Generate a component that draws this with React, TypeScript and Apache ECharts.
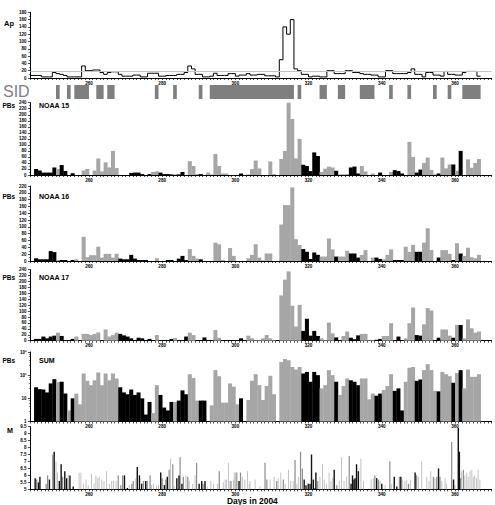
import { useEffect, useRef } from "react";
import * as echarts from "echarts";

// ---------------- DATA ----------------
const X_MIN = 244;
const X_MAX = 370;
const xTickLabels = [260, 280, 300, 320, 340, 360];

// Daily Ap index, days 244..366
const AP_FIRST_DAY = 244;
const apValues = [
  7, 7, 7, 3, 3, 3, 15, 12, 10, 7,
  3, 3, 3, 3, 33, 20, 20, 22, 22, 15,
  10, 15, 17, 17, 10, 5, 5, 5, 8, 8,
  3, 3, 13, 13, 13, 5, 5, 7, 7, 7,
  10, 10, 15, 33, 25, 10, 10, 3, 3, 5,
  13, 7, 7, 7, 12, 12, 5, 8, 8, 12,
  8, 8, 10, 10, 6, 6, 6, 3, 50, 140,
  120, 160, 25, 20, 10, 10, 3, 5, 5, 3,
  3, 20, 20, 12, 12, 12, 20, 20, 15, 15,
  12, 10, 10, 8, 8, 3, 3, 20, 20, 12,
  12, 12, 12, 15, 25, 10, 10, 3, 15, 15,
  8, 8, 5, 18, 10, 10, 8, 8, 15, 18,
  18, 18, 5,
];
const AP_REFERENCE = 18;

// SID periods [start day, end day]
const sidPeriods = [
  [251, 252], [254, 255], [256, 260], [262, 264], [265, 267], [278, 279],
  [283, 284], [290, 291], [293, 316], [317, 318], [323, 325], [328, 330],
  [334, 338], [342, 343], [347, 348], [354, 355], [358, 359], [362, 367],
];

// Daily PB counts, days 245..366
const PB_FIRST_DAY = 245;
const noaa15 = [
  20, 15, 8, 8, 8, 25, 20, 33, 13, 0,
  6, 0, 0, 15, 20, 0, 15, 55, 12, 42,
  25, 80, 23, 0, 0, 0, 7, 8, 8, 3,
  0, 3, 10, 12, 8, 3, 3, 2, 2, 2,
  10, 0, 46, 30, 3, 3, 0, 8, 2, 70,
  30, 5, 5, 0, 0, 0, 5, 0, 2, 20,
  48, 22, 0, 0, 45, 3, 0, 53, 80, 240,
  186, 55, 120, 34, 30, 13, 75, 63, 10, 21,
  28, 25, 14, 2, 2, 3, 25, 28, 5, 30,
  12, 0, 5, 0, 8, 0, 0, 10, 16, 13,
  5, 0, 110, 60, 8, 18, 40, 58, 17, 2,
  5, 58, 22, 35, 35, 14, 80, 0, 52, 24,
  40, 53,
];
const noaa16 = [
  8, 5, 5, 5, 29, 26, 3, 3, 3, 0,
  3, 5, 0, 71, 11, 17, 17, 42, 10, 21,
  21, 10, 21, 7, 5, 5, 18, 7, 3, 3,
  3, 0, 0, 8, 0, 0, 3, 3, 0, 7,
  15, 3, 35, 15, 7, 5, 0, 0, 0, 54,
  49, 3, 0, 38, 15, 0, 0, 0, 8, 18,
  49, 10, 2, 22, 22, 0, 0, 107, 164, 164,
  216, 64, 47, 35, 27, 6, 25, 18, 13, 13,
  66, 34, 13, 13, 13, 30, 22, 22, 10, 18,
  32, 0, 10, 10, 6, 5, 18, 34, 3, 3,
  3, 42, 27, 47, 27, 27, 54, 96, 32, 0,
  10, 32, 32, 21, 3, 52, 22, 15, 39, 11,
  8, 18,
];
const noaa17 = [
  6, 6, 14, 8, 14, 17, 27, 16, 0, 0,
  6, 14, 0, 23, 23, 19, 23, 28, 0, 38,
  14, 19, 27, 23, 18, 14, 8, 0, 10, 8,
  0, 6, 0, 19, 0, 0, 0, 6, 9, 0,
  0, 14, 27, 19, 0, 0, 11, 0, 0, 36,
  10, 0, 0, 0, 0, 0, 8, 0, 17, 8,
  2, 2, 8, 19, 8, 2, 0, 153, 206, 234,
  118, 48, 121, 33, 74, 17, 33, 16, 8, 2,
  61, 25, 11, 0, 16, 31, 10, 5, 18, 23,
  23, 2, 2, 3, 6, 16, 16, 59, 0, 14,
  0, 8, 59, 112, 19, 17, 55, 110, 102, 0,
  10, 38, 38, 17, 10, 53, 53, 8, 72, 42,
  27, 31,
];
const pbSum = [
  30, 25, 24, 18, 44, 67, 50, 52, 16, 3,
  10, 16, 5.5, 118, 57, 37, 60, 130, 37, 118,
  60, 118, 72, 30, 18, 15, 24, 14, 18, 10,
  2, 7, 2.3, 37, 14, 4, 3, 7, 7, 8,
  22, 15, 110, 75, 8, 8, 8, 0, 5, 165,
  90, 6.5, 6.5, 44, 32, 5.5, 10, 0, 8.5, 57,
  110, 37, 8.5, 34, 94, 15, 0, 370, 500, 440,
  225, 175, 225, 118, 138, 52, 138, 100, 27, 37,
  165, 100, 52, 14, 34, 72, 60, 52, 37, 72,
  72, 9, 16, 13, 16, 23, 34, 110, 21, 27,
  3, 52, 210, 225, 57, 65, 165, 300, 165, 21,
  20, 138, 110, 90, 47, 125, 165, 27, 175, 85,
  85, 110,
];
// Days drawn in black (others grey)
const blackDays = [
  245, 246, 247, 248, 249, 250, 252, 253, 255, 268, 269, 270, 271, 272, 273,
  274, 275, 276, 279, 280, 281, 282, 284, 285, 286, 290, 291, 301, 318, 319,
  320, 321, 322, 327, 331, 332, 333, 338, 339, 343, 344, 345, 349, 350, 355,
  359, 361,
];

// Earthquake magnitudes [day, M]
const quakesBlack = [
  [245.3, 5.8], [246.2, 5.5], [246.6, 5.9], [249.2, 5.7], [250.5, 7.7], [251.9, 5.6],
  [252.4, 6.8], [253.4, 6.3], [253.9, 5.8], [254.8, 6.0], [255.7, 5.2], [269.7, 6.0],
  [270.5, 5.1], [273.2, 6.6], [273.8, 6.0], [274.4, 5.4], [275.5, 5.6], [279.6, 6.2],
  [280.6, 5.3], [281.4, 5.9], [284.0, 5.8], [284.6, 6.0], [285.4, 5.4], [290.1, 5.4],
  [290.8, 5.6], [291.7, 5.6], [301.0, 5.6], [318.8, 5.7], [319.3, 5.3], [319.9, 5.4],
  [320.4, 5.4], [320.8, 7.5], [321.3, 5.7], [321.8, 5.1], [322.0, 6.2], [327.0, 6.4],
  [331.6, 5.4], [332.0, 6.0], [332.4, 5.7], [332.7, 5.8], [333.1, 6.8], [333.6, 6.3],
  [338.6, 5.8], [340.0, 5.4], [343.4, 5.9], [344.1, 5.2], [345.2, 5.9], [349.1, 6.2],
  [355.5, 6.5], [359.6, 5.7], [360.9, 9.4], [361.2, 7.7],
];
const quakesGray = [
  [245.7, 5.7], [248.3, 5.4], [248.7, 6.0], [250.1, 7.5], [252.8, 5.9], [268.0, 6.0],
  [268.7, 5.3], [269.2, 6.0], [271.7, 5.4], [272.1, 5.6], [274.9, 5.6], [275.9, 5.6],
  [276.7, 6.0], [280.0, 5.8], [281.0, 5.7], [281.9, 6.4], [282.9, 6.8], [284.9, 7.3],
  [285.8, 5.9], [287.0, 5.9], [289.4, 6.9], [291.2, 5.4], [295.6, 6.3], [298.8, 5.6],
  [300.2, 6.2], [301.4, 6.2], [308.1, 6.9], [308.6, 5.7], [311.3, 5.6], [313.1, 5.7],
  [316.3, 7.1], [317.8, 7.7], [318.3, 6.5], [322.5, 5.6], [327.7, 5.3], [331.1, 7.4],
  [338.1, 6.0], [339.1, 5.7], [342.2, 7.0], [344.8, 5.9], [347.3, 5.4], [349.5, 6.0],
  [354.1, 5.9], [355.0, 5.9], [355.9, 5.9], [359.1, 8.4], [361.5, 5.8], [362.3, 6.4],
];
const quakesLight = [
  [251.0, 7.0], [251.4, 6.2], [254.4, 6.0], [257.3, 6.2], [257.8, 6.2], [258.5, 5.4],
  [259.2, 5.7], [259.8, 5.3], [260.7, 6.1], [261.4, 5.4], [261.9, 6.0], [262.4, 5.8],
  [262.8, 5.9], [263.5, 5.7], [264.1, 5.6], [264.8, 6.3], [265.6, 5.4], [266.2, 5.6],
  [266.7, 5.6], [267.4, 5.6], [271.0, 5.3], [272.8, 5.8], [277.1, 5.3], [277.6, 5.4],
  [278.5, 5.3], [279.0, 5.3], [282.3, 7.2], [283.3, 5.2], [286.5, 6.0], [287.4, 5.6],
  [288.3, 5.4], [289.0, 6.0], [292.3, 5.2], [293.3, 5.6], [294.0, 5.4], [295.1, 5.4],
  [296.7, 5.5], [297.2, 5.7], [297.6, 5.7], [298.1, 6.9], [298.5, 5.6], [299.5, 5.7],
  [299.7, 6.2], [300.5, 6.2], [301.9, 5.9], [302.6, 5.7], [303.3, 6.3], [303.8, 5.4],
  [304.0, 5.6], [305.4, 5.7], [306.7, 5.2], [309.5, 5.7], [310.6, 5.9], [311.7, 5.8],
  [312.4, 6.2], [313.6, 5.4], [314.5, 6.4], [315.1, 5.6], [315.8, 5.6], [316.8, 5.4],
  [317.2, 5.9], [323.1, 5.9], [323.8, 6.8], [324.3, 5.7], [324.9, 5.4], [325.6, 6.2],
  [326.1, 5.6], [326.6, 5.8], [328.4, 5.6], [329.0, 7.3], [329.7, 5.6], [330.4, 5.9],
  [334.3, 7.2], [335.0, 5.6], [337.1, 5.7], [337.7, 5.8], [339.5, 5.6], [340.9, 5.3],
  [342.7, 5.4], [345.7, 5.7], [346.3, 5.6], [346.8, 5.7], [347.9, 5.7], [350.0, 5.9],
  [350.9, 7.0], [352.3, 5.9], [352.9, 5.6], [353.4, 6.3], [354.5, 5.8], [356.4, 5.6],
  [357.3, 5.8], [357.7, 5.4], [360.0, 5.3], [361.8, 6.3], [362.7, 6.0], [363.2, 6.2],
  [363.6, 5.9], [364.1, 6.3], [364.6, 6.4], [365.0, 5.9], [365.4, 6.0], [365.9, 5.8],
  [366.3, 6.4], [366.8, 5.7],
];

// ---------------- LAYOUT / STYLE ----------------
const FONT = '"Liberation Sans", Arial, sans-serif';
const GRID_LEFT = 30.4;
const GRID_WIDTH = 461.2;
const panels = [
  { top: 12.3, height: 65.7 }, // Ap
  { top: 85, height: 14 }, // SID
  { top: 102.7, height: 72.3 }, // NOAA 15
  { top: 186, height: 75 }, // NOAA 16
  { top: 269.6, height: 71.1 }, // NOAA 17
  { top: 352, height: 69.5 }, // SUM
  { top: 426.7, height: 62.6 }, // M
];
const GREY_BAR = "#a6a6a6";
const BLACK_BAR = "#000000";

function buildOption() {
  const dayTicks: number[] = [];
  for (let d = X_MIN; d <= X_MAX; d++) dayTicks.push(d);
  const blackSet = new Set(blackDays);

  const grid = panels.map((p) => ({
    left: GRID_LEFT,
    width: GRID_WIDTH,
    top: p.top,
    height: p.height,
  }));

  const xAxis = panels.map((_, i) => ({
    type: "value",
    gridIndex: i,
    min: X_MIN,
    max: X_MAX,
    show: i !== 1,
    axisLine: { show: true, onZero: false, lineStyle: { color: "#000", width: 1 } },
    axisTick: {
      show: true,
      customValues: dayTicks,
      length: 2,
      lineStyle: { color: "#000", width: 0.7 },
    },
    axisLabel: {
      customValues: xTickLabels,
      fontSize: 4.6,
      fontWeight: "bold",
      fontFamily: FONT,
      color: "#000",
      margin: 2.5,
    },
    splitLine: { show: false },
  }));

  const yBase = (i: number) => ({
    gridIndex: i,
    axisLine: { show: true, onZero: false, lineStyle: { color: "#000", width: 1 } },
    axisTick: { show: true, length: 2.5, lineStyle: { color: "#000", width: 0.7 } },
    minorTick: { show: true, splitNumber: 2, length: 1.5, lineStyle: { color: "#000", width: 0.5 } },
    axisLabel: {
      fontSize: 4.5,
      fontWeight: "bold",
      fontFamily: FONT,
      color: "#000",
      margin: 4,
    },
    splitLine: { show: false },
  });

  const yAxis: any[] = [
    { ...yBase(0), type: "value", min: 0, max: 180, interval: 20 },
    { type: "value", gridIndex: 1, min: 0, max: 1, show: false },
    { ...yBase(2), type: "value", min: 0, max: 240, interval: 20 },
    { ...yBase(3), type: "value", min: 0, max: 220, interval: 20 },
    { ...yBase(4), type: "value", min: 0, max: 240, interval: 20 },
    {
      ...yBase(5),
      type: "log",
      logBase: 10,
      min: 1,
      max: 1000,
      minorTick: { show: true, splitNumber: 5, length: 1.5, lineStyle: { color: "#000", width: 0.5 } },
      axisLabel: {
        ...yBase(5).axisLabel,
        formatter: (v: number) =>
          v >= 999 ? "10³" : v >= 99 ? "10²" : v >= 9 ? "10" : "1",
      },
    },
    {
      ...yBase(6),
      type: "value",
      min: 5,
      max: 9.5,
      interval: 0.5,
      minorTick: { show: false },
      axisLabel: { ...yBase(6).axisLabel, formatter: (v: number) => String(v) },
    },
  ];

  const barRender = (base: number) => (params: any, api: any) => {
    const d = api.value(0);
    const v = api.value(1);
    const top = api.coord([d, v]);
    const bottom = api.coord([d + 1, base]);
    return {
      type: "rect",
      shape: {
        x: top[0],
        y: top[1],
        width: bottom[0] - top[0] + 0.35,
        height: bottom[1] - top[1],
      },
      style: { fill: api.value(2) ? BLACK_BAR : GREY_BAR },
    };
  };

  const pbSeries = (values: number[], axisIndex: number, base: number) => ({
    type: "custom",
    xAxisIndex: axisIndex,
    yAxisIndex: axisIndex,
    renderItem: barRender(base),
    encode: { x: 0, y: 1 },
    silent: true,
    data: values
      .map((v, k) => [PB_FIRST_DAY + k, v, blackSet.has(PB_FIRST_DAY + k) ? 1 : 0])
      .filter((r) => r[1] > 0),
  });

  const quakeSeries = (events: number[][], color: string, width: number) => ({
    type: "custom",
    xAxisIndex: 6,
    yAxisIndex: 6,
    silent: true,
    encode: { x: 0, y: 1 },
    renderItem: (params: any, api: any) => {
      const d = api.value(0);
      const p1 = api.coord([d, 5]);
      const p2 = api.coord([d, api.value(1)]);
      return {
        type: "line",
        shape: { x1: p1[0], y1: p1[1], x2: p2[0], y2: p2[1] },
        style: { stroke: color, lineWidth: width },
      };
    },
    data: events,
  });

  const apData = apValues.map((v, k) => [AP_FIRST_DAY + k, v]);
  apData.push([AP_FIRST_DAY + apValues.length, apValues[apValues.length - 1]]);

  const series: any[] = [
    {
      type: "line",
      xAxisIndex: 0,
      yAxisIndex: 0,
      step: "end",
      showSymbol: false,
      silent: true,
      lineStyle: { color: "#000", width: 1 },
      data: apData,
      markLine: {
        silent: true,
        symbol: "none",
        label: { show: false },
        lineStyle: { color: "#c4c4c4", width: 1, type: "solid" },
        data: [{ yAxis: AP_REFERENCE }],
      },
      z: 3,
    },
    {
      type: "custom",
      xAxisIndex: 1,
      yAxisIndex: 1,
      silent: true,
      encode: { x: 0, y: 1 },
      renderItem: (params: any, api: any) => {
        const a = api.coord([api.value(0), 1]);
        const b = api.coord([api.value(1), 0]);
        return {
          type: "rect",
          shape: { x: a[0], y: a[1], width: b[0] - a[0], height: b[1] - a[1] },
          style: { fill: "#7f7f7f" },
        };
      },
      data: sidPeriods,
    },
    pbSeries(noaa15, 2, 0),
    pbSeries(noaa16, 3, 0),
    pbSeries(noaa17, 4, 0),
    pbSeries(pbSum, 5, 1),
    quakeSeries(quakesLight, "#c2c2c2", 1),
    quakeSeries(quakesGray, "#8c8c8c", 1.2),
    quakeSeries(quakesBlack, "#111111", 1.4),
  ];

  const txt = (text: string, x: number, y: number, font: string, fill = "#000", align = "left") => ({
    type: "text",
    x,
    y,
    silent: true,
    style: {
      text,
      font,
      fill,
      textAlign: align,
      align,
      textVerticalAlign: "middle",
      verticalAlign: "middle",
    },
  });

  const graphic = [
    txt("Ap", 4, 23, `bold 7.5px ${FONT}`),
    txt("SID", 3, 91.5, `16px ${FONT}`, "#808080"),
    txt("PBs", 2.5, 105, `bold 6.5px ${FONT}`),
    txt("NOAA 15", 39, 105, `bold 7px ${FONT}`),
    txt("PBs", 2.5, 196, `bold 6.5px ${FONT}`),
    txt("NOAA 16", 39, 196, `bold 7px ${FONT}`),
    txt("PBs", 2.5, 277, `bold 6.5px ${FONT}`),
    txt("NOAA 17", 39, 277, `bold 7px ${FONT}`),
    txt("PBs", 2.5, 360.5, `bold 6.5px ${FONT}`),
    txt("SUM", 39, 360.5, `bold 7px ${FONT}`),
    txt("M", 7, 430, `bold 7.2px ${FONT}`),
    txt("Days in 2004", 227, 501, `bold 8.4px ${FONT}`),
  ];

  return {
    animation: false,
    backgroundColor: "#ffffff",
    textStyle: { fontFamily: FONT },
    grid,
    xAxis,
    yAxis,
    series,
    graphic,
  };
}

export default function App() {
  const ref = useRef<HTMLDivElement>(null);
  useEffect(() => {
    if (!ref.current) return;
    const chart = echarts.init(ref.current, undefined, { renderer: "svg" });
    chart.setOption(buildOption() as any);
    return () => chart.dispose();
  }, []);
  return (
    <div
      ref={ref}
      style={{ position: "absolute", left: 0, top: 0, width: 495, height: 505, background: "#fff" }}
    />
  );
}
